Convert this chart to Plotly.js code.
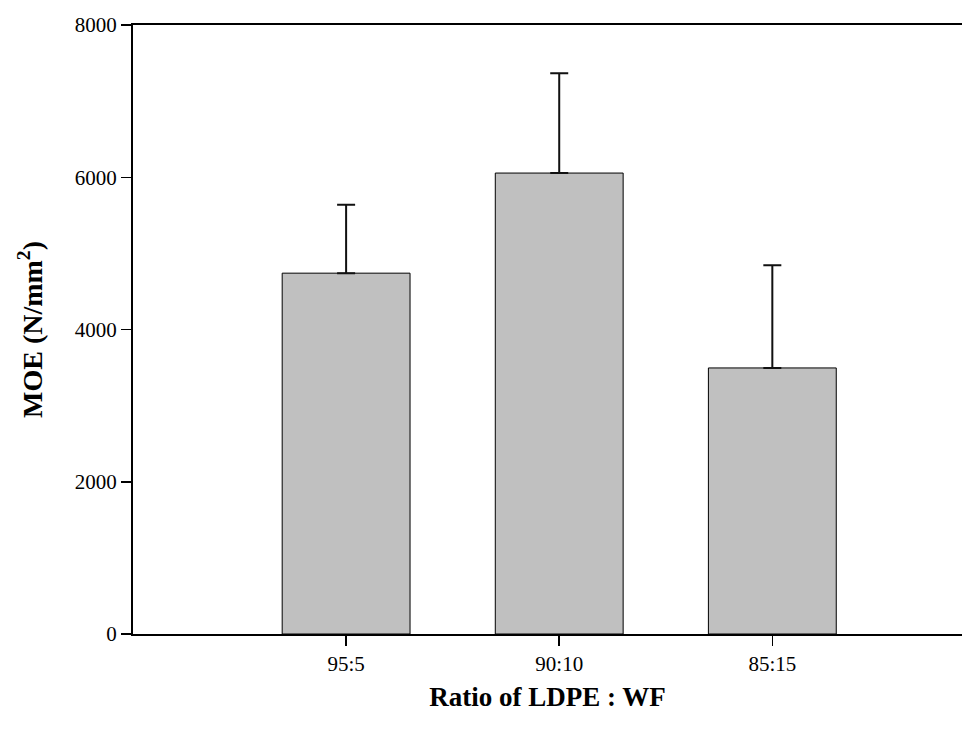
<!DOCTYPE html>
<html>
<head>
<meta charset="utf-8">
<script src="https://cdn.plot.ly/plotly-3.0.1.min.js"></script>
<style>html,body{margin:0;padding:0;background:#fff;}#chart{width:962px;height:733px;}</style>
</head>
<body>
<div id="chart"></div>
<script>
// Data
const categories = ["95:5", "90:10", "85:15"];
const positions = [1, 2, 3];
const moeValues = [4740, 6055, 3495];
const errorUpper = [900, 1310, 1350];
const yTickValues = [0, 2000, 4000, 6000, 8000];
const yTickLabels = ["0", "2000", "4000", "6000", "8000"];

const serif = "Liberation Serif, Times New Roman, serif";

const trace = {
  type: "bar",
  x: positions,
  y: moeValues,
  width: 0.6,
  marker: { color: "#c0c0c0", line: { color: "#000", width: 1 } },
  error_y: {
    type: "data",
    symmetric: false,
    array: errorUpper,
    arrayminus: [0, 0, 0],
    color: "#111",
    thickness: 2,
    width: 9
  },
  hoverinfo: "none"
};

const layout = {
  width: 962,
  height: 733,
  margin: { l: 133, r: 0, t: 25, b: 99 },
  paper_bgcolor: "#fff",
  plot_bgcolor: "#fff",
  showlegend: false,
  font: { family: serif, color: "#000" },
  xaxis: {
    range: [0, 3.89],
    tickmode: "array",
    tickvals: positions,
    ticktext: categories,
    ticks: "outside",
    ticklen: 10,
    tickwidth: 1.5,
    tickcolor: "#000",
    showline: true,
    linecolor: "#000",
    linewidth: 2,
    mirror: true,
    showgrid: false,
    zeroline: false,
    tickfont: { family: serif, size: 21, color: "#000" },
    title: { text: "<b>Ratio of LDPE : WF</b>", font: { family: serif, size: 27, color: "#000" }, standoff: 12 }
  },
  yaxis: {
    range: [0, 8000],
    tickmode: "array",
    tickvals: yTickValues,
    ticktext: yTickLabels,
    ticks: "outside",
    ticklen: 10,
    tickwidth: 1.5,
    tickcolor: "#000",
    showline: true,
    linecolor: "#000",
    linewidth: 2,
    mirror: false,
    showgrid: false,
    zeroline: false,
    tickfont: { family: serif, size: 21, color: "#000" },
    title: { text: "<b>MOE (N/mm<sup>2</sup>)</b>", font: { family: serif, size: 28, color: "#000" }, standoff: 24 }
  }
};

Plotly.newPlot("chart", [trace], layout, { staticPlot: true, displayModeBar: false });
</script>
</body>
</html>
